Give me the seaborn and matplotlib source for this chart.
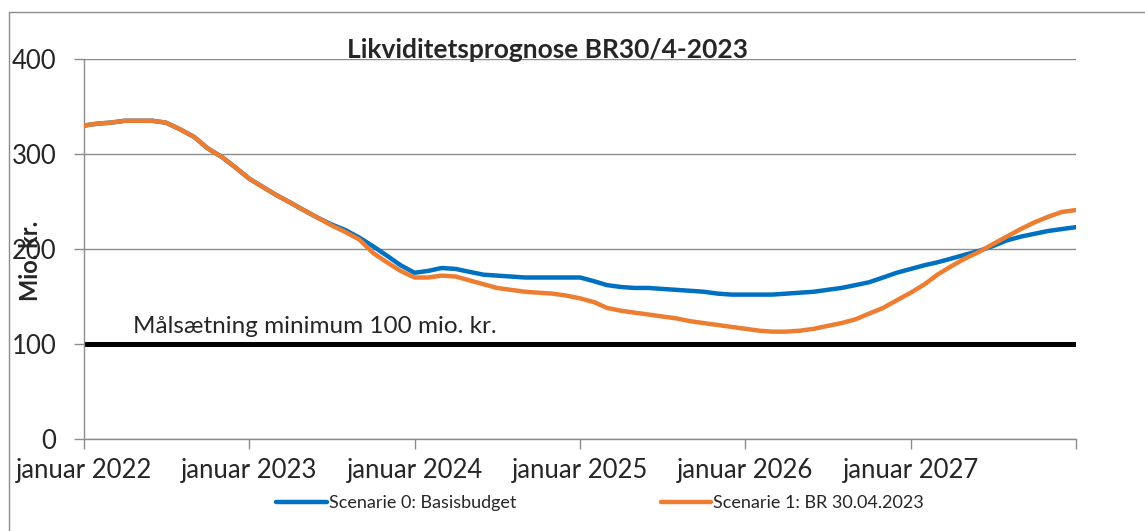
import pandas as pd
import matplotlib.pyplot as plt
from matplotlib.lines import Line2D
import seaborn as sns

# ------------------ DATA (monthly, Jan 2022 - Jan 2028, mio. kr.) ------------------
months = pd.date_range("2022-01-01", "2028-01-01", freq="MS")

common_2022_2023 = [330, 332, 333, 335, 335, 335, 333, 326, 318, 306, 297, 286,
                    274, 265, 257, 249, 241, 233]

scenarie_0 = common_2022_2023 + [
    226, 220, 212, 203, 193, 183,
    175, 177, 180, 179, 176, 173, 172, 171, 170, 170, 170, 170,
    170, 166, 162, 160, 159, 159, 158, 157, 156, 155, 153, 152,
    152, 152, 152, 153, 154, 155, 157, 159, 162, 165, 170, 175,
    179, 183, 186, 190, 194, 198, 203, 209, 213, 216, 219, 221,
    223]

scenarie_1 = common_2022_2023 + [
    225, 218, 210, 196, 186, 177,
    170, 170, 172, 171, 167, 163, 159, 157, 155, 154, 153, 151,
    148, 144, 138, 135, 133, 131, 129, 127, 124, 122, 120, 118,
    116, 114, 113, 113, 114, 116, 119, 122, 126, 132, 138, 146,
    154, 163, 173, 182, 190, 197, 205, 213, 221, 228, 234, 239,
    241]

labels = ["Scenarie 0: Basisbudget", "Scenarie 1: BR 30.04.2023"]
target = 100
year_ticks = pd.date_range("2022-01-01", "2027-01-01", freq="YS")
tick_labels = [f"januar {d.year}" for d in year_ticks]

df = pd.DataFrame({
    "dato": list(months) * 2,
    "mio": scenarie_0 + scenarie_1,
    "scenarie": [labels[0]] * len(months) + [labels[1]] * len(months),
})

# ------------------ PLOT ------------------
sns.set_style("white")
plt.rcParams["font.family"] = ["Lato", "DejaVu Sans"]

fig = plt.figure(figsize=(11.45, 5.31), dpi=100)
ax = fig.add_axes([84 / 1145, 92 / 531, 992 / 1145, 380 / 531])

ax.axhline(target, color="black", lw=3.6, zorder=2)
sns.lineplot(data=df, x="dato", y="mio", hue="scenarie",
             palette=["#0070C0", "#ED7D31"], linewidth=3.2, ax=ax, zorder=3)

ax.set_ylim(0, 400)
ax.set_yticks([0, 100, 200, 300, 400])
ax.set_xlim(pd.Timestamp("2022-01-01"), pd.Timestamp("2028-01-01"))
ax.set_xticks(list(year_ticks) + [pd.Timestamp("2028-01-01")])
ax.set_xticklabels(tick_labels + [""])
ax.grid(axis="y", color="#8c8c8c", lw=1)
ax.set_axisbelow(True)

for s in ["top", "right"]:
    ax.spines[s].set_visible(False)
for s in ["left", "bottom"]:
    ax.spines[s].set_color("#8c8c8c")
    ax.spines[s].set_linewidth(1)

ax.tick_params(axis="y", length=7, width=1, color="#8c8c8c", pad=13,
               labelsize=18.5, labelcolor="#262626", left=True)
ax.tick_params(axis="x", length=7, width=1, color="#8c8c8c", pad=7,
               labelsize=18.5, labelcolor="#262626", bottom=True)

ax.set_xlabel("")
ax.set_ylabel("Mio. kr.", fontsize=17, fontweight="bold")
ax.yaxis.set_label_coords(-0.042, 0.47)

ax.text(0.049, 0.279, "Målsætning minimum 100 mio. kr.", transform=ax.transAxes,
        fontsize=17.5, color="#262626", va="baseline")

fig.text(0.478, 0.906, "Likviditetsprognose BR30/4-2023", fontsize=19,
         fontweight="bold", ha="center", va="center")

ax.get_legend().remove()
handles = [Line2D([], [], color="#0070C0", lw=3.2), Line2D([], [], color="#ED7D31", lw=3.2)]
fig.legend(handles, labels, loc="center", bbox_to_anchor=(0.524, 0.053), ncol=2,
           frameon=False, fontsize=13, handlelength=2.8, handletextpad=0.1,
           columnspacing=8.0)

# outer chart frame
fig.add_artist(Line2D([9 / 1145, 9 / 1145], [0, 1 - 12 / 531], color="#8c8c8c", lw=1))
fig.add_artist(Line2D([9 / 1145, 1], [1 - 12 / 531, 1 - 12 / 531], color="#8c8c8c", lw=1))

plt.savefig("out.png", dpi=100)
